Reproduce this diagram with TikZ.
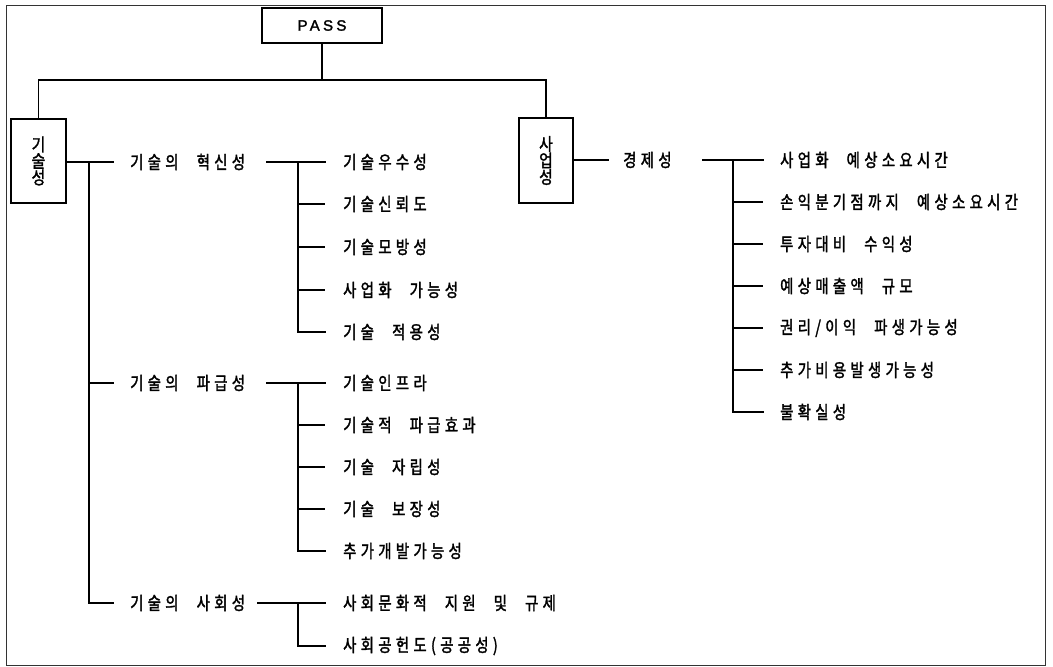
\documentclass[tikz,border=0pt]{standalone}
\usepackage{fontspec}
\newfontfamily\kr{Noto Sans CJK KR}[FakeStretch=0.8, LetterSpace=24, WordSpace=2.4, FakeBold=1.8]
\newfontfamily\krv{Noto Sans CJK KR}[FakeStretch=0.85, FakeBold=1.8]
\newfontfamily\passfont{Liberation Sans}[LetterSpace=22, FakeBold=2]
\begin{document}
\begin{tikzpicture}[x=1pt,y=-1pt,
  ln/.style={line width=1.4pt, line cap=rect},
  lf/.style={line width=1.1pt},
  frm/.style={line width=0.9pt, draw=black!80},
  bx/.style={draw, line width=1.4pt, inner sep=0pt},
  lbl/.style={anchor=west, inner sep=0pt, font=\kr\fontsize{18}{20}\selectfont},
  vlbl/.style={bx, align=center, font=\krv\fontsize{17.5}{16.5}\selectfont}]
\useasboundingbox (0,0) rectangle (1053,667);
\draw[frm] (6,5) rectangle (1045,665);

% top
\node[bx, minimum width=120pt, minimum height=35pt, font=\passfont\fontsize{15}{17}\selectfont] (pass) at (322,25.5) {PASS};
\node[vlbl, minimum width=55pt, minimum height=84pt] (tech) at (38.5,161) {기\\술\\성};
\node[vlbl, minimum width=54pt, minimum height=85pt] (biz) at (546,160.5) {사\\업\\성};
\coordinate (top) at (322,80);
\draw[ln] (pass.south) -- (top);
\draw[ln] (top) -| (tech.north);
\draw[ln] (top) -| (biz.north);

% technology branch
\node[lbl] (t1) at (130,162) {기술의 혁신성};
\node[lbl] (t2) at (130,383) {기술의 파급성};
\node[lbl] (t3) at (130,603) {기술의 사회성};
\coordinate (j0) at (89,162);
\draw[ln] (tech.east |- t1) -- ([xshift=-17pt]t1.west);
\draw[ln] (j0) |- ([xshift=-17pt]t3.west);
\draw[ln] (j0 |- t2) -- ([xshift=-17pt]t2.west);

% leaves of 혁신성
\node[lbl] (a1) at (343,162) {기술우수성};
\node[lbl] (a2) at (343,204) {기술신뢰도};
\node[lbl] (a3) at (343,247) {기술모방성};
\node[lbl] (a4) at (343,290) {사업화 가능성};
\node[lbl] (a5) at (343,332) {기술 적용성};
\coordinate (ja) at (298,162);
\coordinate (sa) at (267,162);
\draw[ln] (sa) -- ([xshift=-18pt]a1.west);
\draw[ln] (ja) |- ([xshift=-18pt]a5.west);
\foreach \n in {a2,a3,a4} \draw[lf] (ja |- \n) -- ([xshift=-18pt]\n.west);

% leaves of 파급성
\node[lbl] (b1) at (343,383) {기술인프라};
\node[lbl] (b2) at (343,425) {기술적 파급효과};
\node[lbl] (b3) at (343,467) {기술 자립성};
\node[lbl] (b4) at (343,509) {기술 보장성};
\node[lbl] (b5) at (343,551) {추가개발가능성};
\coordinate (jb) at (298,383);
\coordinate (sb) at (267,383);
\draw[ln] (sb) -- ([xshift=-18pt]b1.west);
\draw[ln] (jb) |- ([xshift=-18pt]b5.west);
\foreach \n in {b2,b3,b4} \draw[lf] (jb |- \n) -- ([xshift=-18pt]\n.west);

% leaves of 사회성
\node[lbl] (c1) at (343,603) {사회문화적 지원 및 규제};
\node[lbl] (c2) at (343,646) {사회공헌도(공공성)};
\coordinate (jc) at (298,603);
\coordinate (sc) at (258,603);
\draw[ln] (sc) -- ([xshift=-18pt]c1.west);
\draw[ln] (jc) |- ([xshift=-18pt]c2.west);

% business branch
\node[lbl] (e1) at (623,160) {경제성};
\draw[ln] (biz.east |- e1) -- ([xshift=-15pt]e1.west);
\node[lbl] (d1) at (780,160) {사업화 예상소요시간};
\node[lbl] (d2) at (780,202) {손익분기점까지 예상소요시간};
\node[lbl] (d3) at (780,244) {투자대비 수익성};
\node[lbl] (d4) at (780,286) {예상매출액 규모};
\node[lbl] (d5) at (780,328) {권리/이익 파생가능성};
\node[lbl] (d6) at (780,370) {추가비용발생가능성};
\node[lbl] (d7) at (780,412) {불확실성};
\coordinate (jd) at (733,160);
\coordinate (sd) at (703,160);
\draw[ln] (sd) -- ([xshift=-17pt]d1.west);
\draw[ln] (jd) |- ([xshift=-17pt]d7.west);
\foreach \n in {d2,d3,d4,d5,d6} \draw[lf] (jd |- \n) -- ([xshift=-17pt]\n.west);
\end{tikzpicture}
\end{document}
